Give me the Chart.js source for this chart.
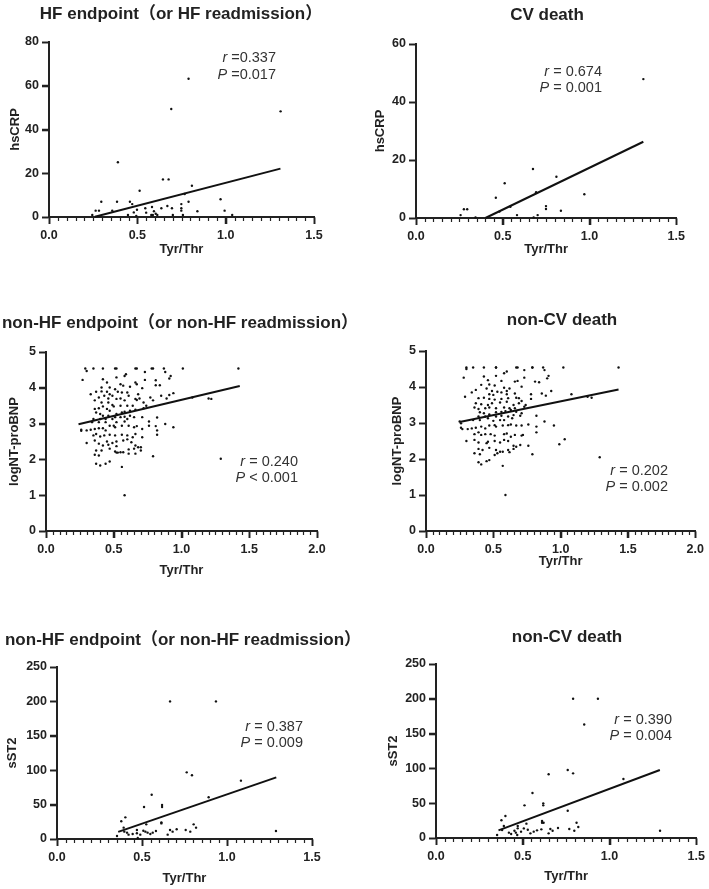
<!DOCTYPE html>
<html>
<head>
<meta charset="utf-8">
<script src="https://cdn.jsdelivr.net/npm/chart.js@4.4.0/dist/chart.umd.min.js"></script>
<style>
  body { margin:0; background:#fff; width:709px; height:889px; position:relative; overflow:hidden; }
  canvas { position:absolute; }
</style>
</head>
<body>
<script>
var FONT = "Arial, 'Liberation Sans', 'Noto Sans CJK SC', sans-serif";

// --- data (Tyr/Thr, marker) ---
var hfCrp = [[0.39,25.0],[0.645,17.2],[0.677,17.2],[0.513,12.0],[0.809,14.3],[0.296,7.0],[0.385,7.0],[0.458,7.0],[0.471,5.9],
  [0.264,2.9],[0.283,2.9],[0.358,2.9],[0.245,0.9],[0.48,2.1],[0.498,3.3],[0.545,4.0],[0.55,2.0],[0.583,4.6],[0.594,2.6],
  [0.604,1.5],[0.579,0.9],[0.588,0.9],[0.613,0.9],[0.636,4.0],[0.67,5.0],[0.696,4.0],[0.701,0.9],[0.749,5.9],[0.749,4.0],
  [0.749,2.9],[0.758,0.9],[0.768,10.5],[0.79,7.0],[0.84,2.6],[0.971,8.1],[0.994,2.9],[1.037,0.9],[0.447,0.9],[0.494,0.5],
  [0.79,63.2],[0.692,49.4],[1.311,48.3]];
var hfCrpFitX = [0.26, 1.31], hfCrpFitY = [0.1, 22.1];

var cvCrp = [[0.674,16.9],[0.809,14.2],[0.511,12.0],[0.46,7.0],[0.692,8.9],[0.97,8.2],[0.276,3.0],[0.295,3.0],[0.481,2.2],
  [0.544,3.9],[0.749,4.1],[0.749,3.1],[0.835,2.5],[0.257,1.0],[0.343,0.2],[0.582,1.0],[0.678,0.2],[0.701,1.0],[1.31,47.9]];
var cvCrpFitX = [0.40, 1.31], cvCrpFitY = [0, 26.3];

var nonHfBnp = [[0.29,4.54],[0.30,4.47],[0.35,4.54],[0.42,4.54],[0.51,4.54],[0.52,4.54],[0.66,4.54],[0.67,4.54],[0.78,4.54],
  [0.79,4.54],[0.87,4.54],[1.01,4.54],[1.42,4.54],[0.73,4.44],[0.88,4.44],
  [0.27,4.22],[0.42,4.24],[0.59,4.38],[0.58,4.33],[0.52,4.29],[0.73,4.22],[0.81,4.21],[0.92,4.33],[0.91,4.26],
  [0.45,4.15],[0.55,4.10],[0.66,4.15],[0.67,4.10],[0.81,4.07],[0.84,4.07],[0.71,3.99],
  [0.41,4.01],[0.47,4.01],[0.51,3.96],[0.57,4.06],[0.62,4.03],[0.41,3.90],[0.45,3.89],
  [0.37,3.89],[0.53,3.89],[0.56,3.87],[0.60,3.87],[0.47,3.82],[0.33,3.82],[0.49,3.78],[0.61,3.78],[0.77,3.73],[0.85,3.78],
  [0.91,3.80],[0.94,3.85],[0.89,3.70],[0.68,3.82],
  [0.39,3.73],[0.43,3.78],[0.46,3.70],[0.52,3.69],[0.55,3.70],[0.36,3.65],[0.41,3.59],[0.46,3.59],[0.58,3.65],[0.66,3.69],
  [0.67,3.66],[0.69,3.70],[0.79,3.65],[0.64,3.50],[0.49,3.52],[0.50,3.48],[0.42,3.48],[0.36,3.41],[0.39,3.43],[0.45,3.41],
  [0.47,3.36],[0.55,3.50],[0.60,3.50],[0.72,3.59],[0.74,3.50],[1.08,3.73],[1.20,3.70],[1.22,3.69],
  [0.37,3.31],[0.40,3.27],[0.42,3.22],[0.46,3.22],[0.52,3.27],[0.56,3.31],[0.58,3.33],[0.62,3.36],[0.66,3.39],[0.72,3.43],
  [0.44,3.13],[0.49,3.13],[0.51,3.18],[0.55,3.18],[0.58,3.19],[0.40,3.13],[0.35,3.13],[0.62,3.22],[0.65,3.18],[0.71,3.18],
  [0.82,3.17],[0.34,3.04],[0.39,3.04],[0.44,3.04],[0.52,3.04],[0.58,3.06],[0.60,3.13],[0.76,3.06],[0.88,2.99],
  [0.26,2.83],[0.26,2.80],[0.30,2.81],[0.33,2.83],[0.36,2.85],[0.39,2.87],[0.42,2.87],[0.44,2.81],[0.47,2.94],[0.50,2.94],
  [0.51,2.90],[0.56,2.94],[0.61,2.94],[0.65,2.90],[0.67,2.93],[0.71,2.85],[0.76,2.94],[0.81,2.93],[0.94,2.90],[0.82,2.81],
  [0.35,2.67],[0.37,2.71],[0.40,2.64],[0.43,2.67],[0.47,2.69],[0.51,2.67],[0.56,2.69],[0.60,2.67],[0.64,2.62],[0.66,2.71],
  [0.71,2.62],[0.82,2.69],
  [0.30,2.46],[0.36,2.53],[0.39,2.44],[0.45,2.50],[0.49,2.46],[0.52,2.50],[0.57,2.53],[0.60,2.56],[0.63,2.48],[0.42,2.39],
  [0.46,2.41],[0.52,2.37],[0.66,2.39],[0.68,2.34],[0.70,2.34],
  [0.37,2.25],[0.41,2.25],[0.47,2.30],[0.51,2.22],[0.55,2.20],[0.61,2.28],[0.65,2.30],[0.70,2.25],[0.36,2.13],[0.39,2.11],
  [0.52,2.19],[0.53,2.19],[0.57,2.20],[0.61,2.16],[0.66,2.16],[0.79,2.09],
  [0.37,1.88],[0.40,1.83],[0.44,1.88],[0.47,1.94],[0.56,1.79],[1.29,2.02],[0.58,1.00]];
var nonHfBnpFitX = [0.24, 1.43], nonHfBnpFitY = [2.98, 4.05];

var nonCvBnp = [[0.30,4.54],[0.30,4.50],[0.35,4.54],[0.43,4.54],[0.52,4.54],[0.52,4.54],[0.67,4.54],[0.68,4.54],[0.79,4.54],
  [0.79,4.54],[0.87,4.54],[1.02,4.54],[0.73,4.47],[0.88,4.47],[1.43,4.54],
  [0.28,4.26],[0.43,4.29],[0.60,4.43],[0.58,4.38],[0.52,4.31],[0.73,4.26],[0.81,4.15],[0.84,4.13],[0.91,4.31],[0.90,4.24],
  [0.46,4.19],[0.56,4.17],[0.66,4.15],[0.68,4.17],[0.47,4.07],[0.41,4.06],[0.51,4.04],[0.45,3.96],[0.58,3.98],[0.62,3.96],[0.71,4.01],
  [0.37,3.92],[0.49,3.89],[0.53,3.87],[0.56,3.85],[0.60,3.89],[0.34,3.85],[0.47,3.80],[0.50,3.78],[0.60,3.80],[0.66,3.82],
  [0.78,3.80],[0.86,3.82],[0.89,3.76],[0.93,3.89],[1.08,3.80],[1.20,3.73],[1.23,3.70],[0.29,3.73],
  [0.39,3.69],[0.43,3.70],[0.47,3.67],[0.51,3.65],[0.56,3.67],[0.61,3.69],[0.67,3.70],[0.69,3.69],[0.71,3.61],[0.78,3.67],
  [0.37,3.55],[0.41,3.52],[0.46,3.50],[0.49,3.55],[0.55,3.57],[0.60,3.59],[0.65,3.50],[0.69,3.55],[0.74,3.50],[0.36,3.43],
  [0.39,3.39],[0.44,3.41],[0.47,3.43],[0.52,3.41],[0.58,3.43],[0.62,3.41],[0.73,3.45],[0.66,3.41],
  [0.40,3.30],[0.43,3.27],[0.47,3.24],[0.52,3.30],[0.56,3.31],[0.59,3.33],[0.63,3.36],[0.67,3.31],[0.71,3.27],[0.39,3.18],
  [0.44,3.18],[0.46,3.13],[0.52,3.18],[0.56,3.20],[0.61,3.18],[0.65,3.22],[0.70,3.20],[0.82,3.20],[0.35,3.08],[0.40,3.08],
  [0.25,3.04],[0.26,2.99],[0.50,3.06],[0.55,3.08],[0.58,3.08],[0.64,3.13],[0.76,2.96],[0.88,3.04],[0.95,2.93],
  [0.26,2.87],[0.27,2.83],[0.31,2.83],[0.34,2.85],[0.37,2.87],[0.41,2.90],[0.44,2.85],[0.47,2.93],[0.51,2.94],[0.52,2.90],
  [0.57,2.93],[0.61,2.94],[0.63,2.96],[0.67,2.93],[0.71,2.93],[0.82,2.90],[0.82,2.74],
  [0.36,2.69],[0.39,2.74],[0.41,2.67],[0.44,2.69],[0.48,2.69],[0.51,2.65],[0.58,2.69],[0.60,2.71],[0.63,2.62],[0.66,2.67],
  [0.71,2.65],[0.72,2.67],
  [0.30,2.50],[0.36,2.53],[0.39,2.46],[0.45,2.44],[0.46,2.48],[0.51,2.50],[0.55,2.46],[0.58,2.53],[0.61,2.50],[0.65,2.37],
  [0.67,2.34],[0.70,2.39],[0.76,2.37],[0.99,2.41],[1.03,2.55],
  [0.39,2.28],[0.42,2.25],[0.47,2.31],[0.52,2.25],[0.55,2.20],[0.61,2.25],[0.65,2.28],[0.36,2.16],[0.40,2.13],[0.51,2.11],
  [0.53,2.16],[0.57,2.20],[0.62,2.19],[0.79,2.13],
  [0.39,1.91],[0.41,1.85],[0.45,1.94],[0.47,1.97],[0.57,1.81],[1.29,2.05],[0.59,1.00]];
var nonCvBnpFitX = [0.25, 1.43], nonCvBnpFitY = [3.03, 3.93];

var nonHfSt2 = [[0.763,96.9],[0.794,92.6],[1.082,84.8],[0.557,64.4],[0.892,60.6],[0.512,46.5],[0.618,49.4],[0.618,46.5],
  [0.378,25.7],[0.402,31.5],[0.525,21.3],[0.614,24.2],[0.614,22.7],[0.392,16.5],[0.804,21.3],[0.818,16.5],[0.757,13.1],
  [0.784,10.7],[0.704,14.1],[0.665,13.1],[0.68,10.7],[0.651,6.3],[0.582,11.7],[0.563,9.2],[0.549,7.3],[0.533,9.2],
  [0.508,12.1],[0.52,10.7],[0.49,6.3],[0.47,13.1],[0.47,8.3],[0.445,7.3],[0.421,6.3],[0.412,9.2],[0.396,10.7],[0.353,4.4],
  [0.475,1.5],[1.288,11.7],[0.665,200],[0.935,200]];
var nonHfSt2FitX = [0.36, 1.29], nonHfSt2FitY = [10.3, 89.6];

var nonCvSt2 = [[0.649,91.5],[0.759,97.7],[0.79,92.9],[1.08,84.8],[0.556,64.7],[0.51,46.9],[0.618,49.8],[0.618,46.9],
  [0.759,39.2],[0.40,31.6],[0.377,25.4],[0.521,20.6],[0.611,24.4],[0.611,22.0],[0.62,22.0],[0.391,17.2],[0.471,17.2],
  [0.471,13.9],[0.81,22.0],[0.82,15.8],[0.768,13.0],[0.797,10.5],[0.703,14.4],[0.659,13.0],[0.672,10.5],[0.649,6.7],
  [0.607,12.4],[0.582,11.0],[0.563,9.1],[0.544,6.7],[0.529,11.9],[0.506,13.8],[0.49,9.1],[0.452,10.5],[0.46,7.7],
  [0.42,7.7],[0.433,5.8],[0.468,4.3],[0.352,4.3],[0.381,11.5],[1.291,10.5],[0.79,200],[0.933,200],[0.854,163]];
var nonCvSt2FitX = [0.36, 1.29], nonCvSt2FitY = [11.0, 97.7];

// --- panel layout (page pixels) ---
var panels = [
  { title:'HF endpoint（or HF readmission）', yLabel:'hsCRP', pts:hfCrp, fx:hfCrpFitX, fy:hfCrpFitY,
    xMax:1.5, yMax:80, yStep:20, stats:[['r',' =0.337'],['P',' =0.017']], left:0, padR:45,
    box:[49,42,314,217], top:0, yTitleX:15, xTitleY:249, titleAt:[181,14], statsAt:[276,58,75] },
  { title:'CV death', yLabel:'hsCRP', pts:cvCrp, fx:cvCrpFitX, fy:cvCrpFitY,
    xMax:1.5, yMax:60, yStep:20, stats:[['r',' = 0.674'],['P',' = 0.001']], left:360, padR:12,
    box:[416,44,677,218], top:0, yTitleX:380, xTitleY:249, titleAt:[547,15], statsAt:[602,72,88] },
  { title:'non-HF endpoint（or non-HF readmission）', yLabel:'logNT-proBNP', pts:nonHfBnp, fx:nonHfBnpFitX, fy:nonHfBnpFitY,
    xMax:2, yMax:5, yStep:1, stats:[['r',' = 0.240'],['P',' < 0.001']], left:0, padR:43,
    box:[46,352,317,531], top:290, yTitleX:14, xTitleY:570, titleAt:[180,323], statsAt:[298,462,478] },
  { title:'non-CV death', yLabel:'logNT-proBNP', pts:nonCvBnp, fx:nonCvBnpFitX, fy:nonCvBnpFitY,
    xMax:2, yMax:5, yStep:1, stats:[['r',' = 0.202'],['P',' = 0.002']], left:360, padR:12,
    box:[426,351,696,531], top:290, yTitleX:397, xTitleY:561, titleAt:[562,320], statsAt:[668,471,487] },
  { title:'non-HF endpoint（or non-HF readmission）', yLabel:'sST2', pts:nonHfSt2, fx:nonHfSt2FitX, fy:nonHfSt2FitY,
    xMax:1.5, yMax:250, yStep:50, stats:[['r',' = 0.387'],['P',' = 0.009']], left:0, padR:48,
    box:[57,667,312,839], top:610, yTitleX:12.5, xTitleY:878, titleAt:[183,640], statsAt:[303,727,743] },
  { title:'non-CV death', yLabel:'sST2', pts:nonCvSt2, fx:nonCvSt2FitX, fy:nonCvSt2FitY,
    xMax:1.5, yMax:250, yStep:50, stats:[['r',' = 0.390'],['P',' = 0.004']], left:360, padR:12,
    box:[436,664,697,838], top:610, yTitleX:393, xTitleY:876, titleAt:[567,637], statsAt:[672,720,736] }
];

var INK = '#222';
var LH = 13 * 1.2;

panels.forEach(function(p) {
  var cl = p.left, ct = p.top, padR = p.padR;
  var padL = p.yTitleX - LH / 2 - cl;
  var cw = Math.round(p.box[2] + padR - cl);
  var chh = Math.round(p.xTitleY + LH / 2 - ct);
  var yW = p.box[0] - cl - padL, xH = (ct + chh) - p.box[3];

  var cv = document.createElement('canvas');
  cv.width = cw; cv.height = chh;
  cv.style.left = cl + 'px'; cv.style.top = ct + 'px';
  cv.style.width = cw + 'px'; cv.style.height = chh + 'px';
  document.body.appendChild(cv);

  var decor = {
    id: 'decor',
    afterDraw: function(chart) {
      var ctx = chart.ctx, a = chart.chartArea, xs = chart.scales.x, ys = chart.scales.y;
      ctx.save();
      ctx.strokeStyle = INK;
      // x ticks: minor every 0.05, major every 0.5
      var n = Math.round(p.xMax / 0.05);
      for (var i = 0; i <= n; i++) {
        var major = i % 10 === 0;
        var px = Math.round(xs.getPixelForValue(i * 0.05)) + 0.5;
        ctx.lineWidth = major ? 1.6 : 1.2;
        ctx.beginPath(); ctx.moveTo(px, a.bottom); ctx.lineTo(px, a.bottom + (major ? 7 : 4)); ctx.stroke();
      }
      // y major ticks
      ctx.lineWidth = 1.6;
      for (var v = 0; v <= p.yMax + 1e-9; v += p.yStep) {
        var py = Math.round(ys.getPixelForValue(v)) + 0.5;
        ctx.beginPath(); ctx.moveTo(a.left, py); ctx.lineTo(a.left - 7, py); ctx.stroke();
      }
      // panel title
      ctx.fillStyle = INK;
      ctx.font = 'bold 17px ' + FONT;
      ctx.textAlign = 'center'; ctx.textBaseline = 'middle';
      ctx.fillText(p.title, p.titleAt[0] - cl, p.titleAt[1] - ct);
      // r / P text, right aligned
      ctx.fillStyle = '#333';
      ctx.textAlign = 'left';
      p.stats.forEach(function(s, k) {
        ctx.font = 'italic 14.5px ' + FONT;
        var w1 = ctx.measureText(s[0]).width;
        ctx.font = '14.5px ' + FONT;
        var w2 = ctx.measureText(s[1]).width;
        var x0 = p.statsAt[0] - cl - w1 - w2, y0 = p.statsAt[k + 1] - ct;
        ctx.font = 'italic 14.5px ' + FONT;
        ctx.fillText(s[0], x0, y0);
        ctx.font = '14.5px ' + FONT;
        ctx.fillText(s[1], x0 + w1, y0);
      });
      ctx.restore();
    }
  };

  new Chart(cv, {
    type: 'scatter',
    data: {
      datasets: [
        { data: p.pts.map(function(d) { return { x: d[0], y: d[1] }; }),
          pointRadius: 1.2, pointBackgroundColor: '#111', pointBorderWidth: 0, clip: false },
        { data: p.fx.map(function(x, i) { return { x: x, y: p.fy[i] }; }),
          showLine: true, borderColor: '#111', borderWidth: 2, pointRadius: 0, fill: false, clip: false }
      ]
    },
    options: {
      responsive: false,
      animation: false,
      devicePixelRatio: 1,
      layout: { padding: { left: padL, top: p.box[1] - ct, right: padR, bottom: 0 } },
      plugins: { legend: { display: false }, tooltip: { enabled: false } },
      scales: {
        x: {
          type: 'linear', min: 0, max: p.xMax,
          afterFit: function(s) { s.height = xH; },
          ticks: { stepSize: 0.5, color: INK, padding: 4, maxRotation: 0, autoSkip: false,
                   font: { family: FONT, size: 12.5, weight: 'bold' },
                   callback: function(v) { return v.toFixed(1); } },
          grid: { drawOnChartArea: false, drawTicks: true, tickLength: 7, tickColor: INK, tickWidth: 1.5 },
          border: { color: INK, width: 2 },
          title: { display: true, text: 'Tyr/Thr', color: INK, padding: 0,
                   font: { family: FONT, size: 13, weight: 'bold' } }
        },
        y: {
          type: 'linear', min: 0, max: p.yMax,
          afterFit: function(s) { s.width = yW; },
          ticks: { stepSize: p.yStep, color: INK, padding: 3,
                   font: { family: FONT, size: 12.5, weight: 'bold' } },
          grid: { drawOnChartArea: false, drawTicks: true, tickLength: 7, tickColor: INK, tickWidth: 1.5 },
          border: { color: INK, width: 2 },
          title: { display: true, text: p.yLabel, color: INK, padding: 0,
                   font: { family: FONT, size: 13, weight: 'bold' } }
        }
      }
    },
    plugins: [decor]
  });
});
</script>
</body>
</html>
